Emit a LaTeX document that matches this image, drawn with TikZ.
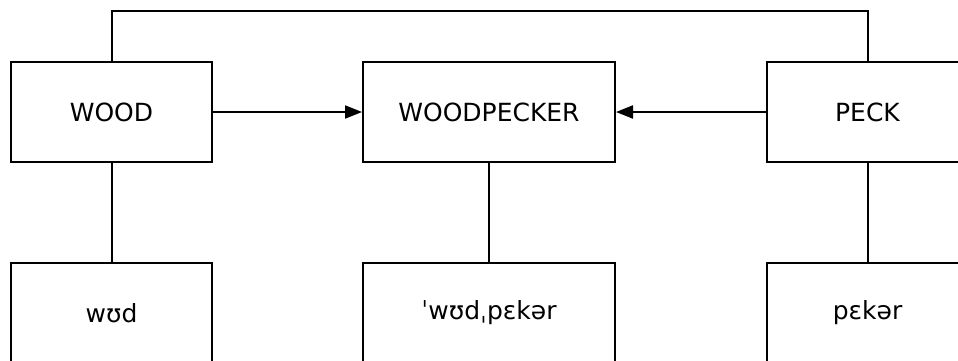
\documentclass[tikz,border=0pt]{standalone}
\usepackage{fontspec}
\setmainfont{DejaVu Sans}
\usepackage{tikz}
\usetikzlibrary{arrows.meta}

\tikzset{
	box/.style={draw, rectangle, line width=2pt, minimum height=100pt, inner sep=0pt, font=\fontsize{25}{30}\selectfont},
	link/.style={line width=2pt},
	arr/.style={-{Triangle[length=17pt,width=13pt]}},
}

\begin{document}
\begin{tikzpicture}[x=1pt,y=-1pt]
	\useasboundingbox (0,0) rectangle (958,360);
	\draw (111.5,112) node(wood) [box, minimum width=201pt] {WOOD};
	\draw (489,112) node(woodpecker) [box, minimum width=252pt] {WOODPECKER};
	\draw (867.5,112) node(peck) [box, minimum width=201pt] {PECK};
	\draw (111.5,313) node(wwood) [box, minimum width=201pt] {wʊd};
	\draw (489,313) node(wwoodpecker) [box, minimum width=252pt] {ˈwʊdˌpɛkər};
	\draw (867.5,313) node(wpeck) [box, minimum width=201pt] {pɛkər};
	\coordinate (top) at (489,11);
	\path[draw, link] (wood.north) |- (top) -| (peck.north);
	\path[draw, link, arr] (wood) -- (woodpecker);
	\path[draw, link, arr] (peck) -- (woodpecker);
	\path[draw, link] (wood) -- (wwood);
	\path[draw, link] (woodpecker) -- (wwoodpecker);
	\path[draw, link] (peck) -- (wpeck);
\end{tikzpicture}
\end{document}
